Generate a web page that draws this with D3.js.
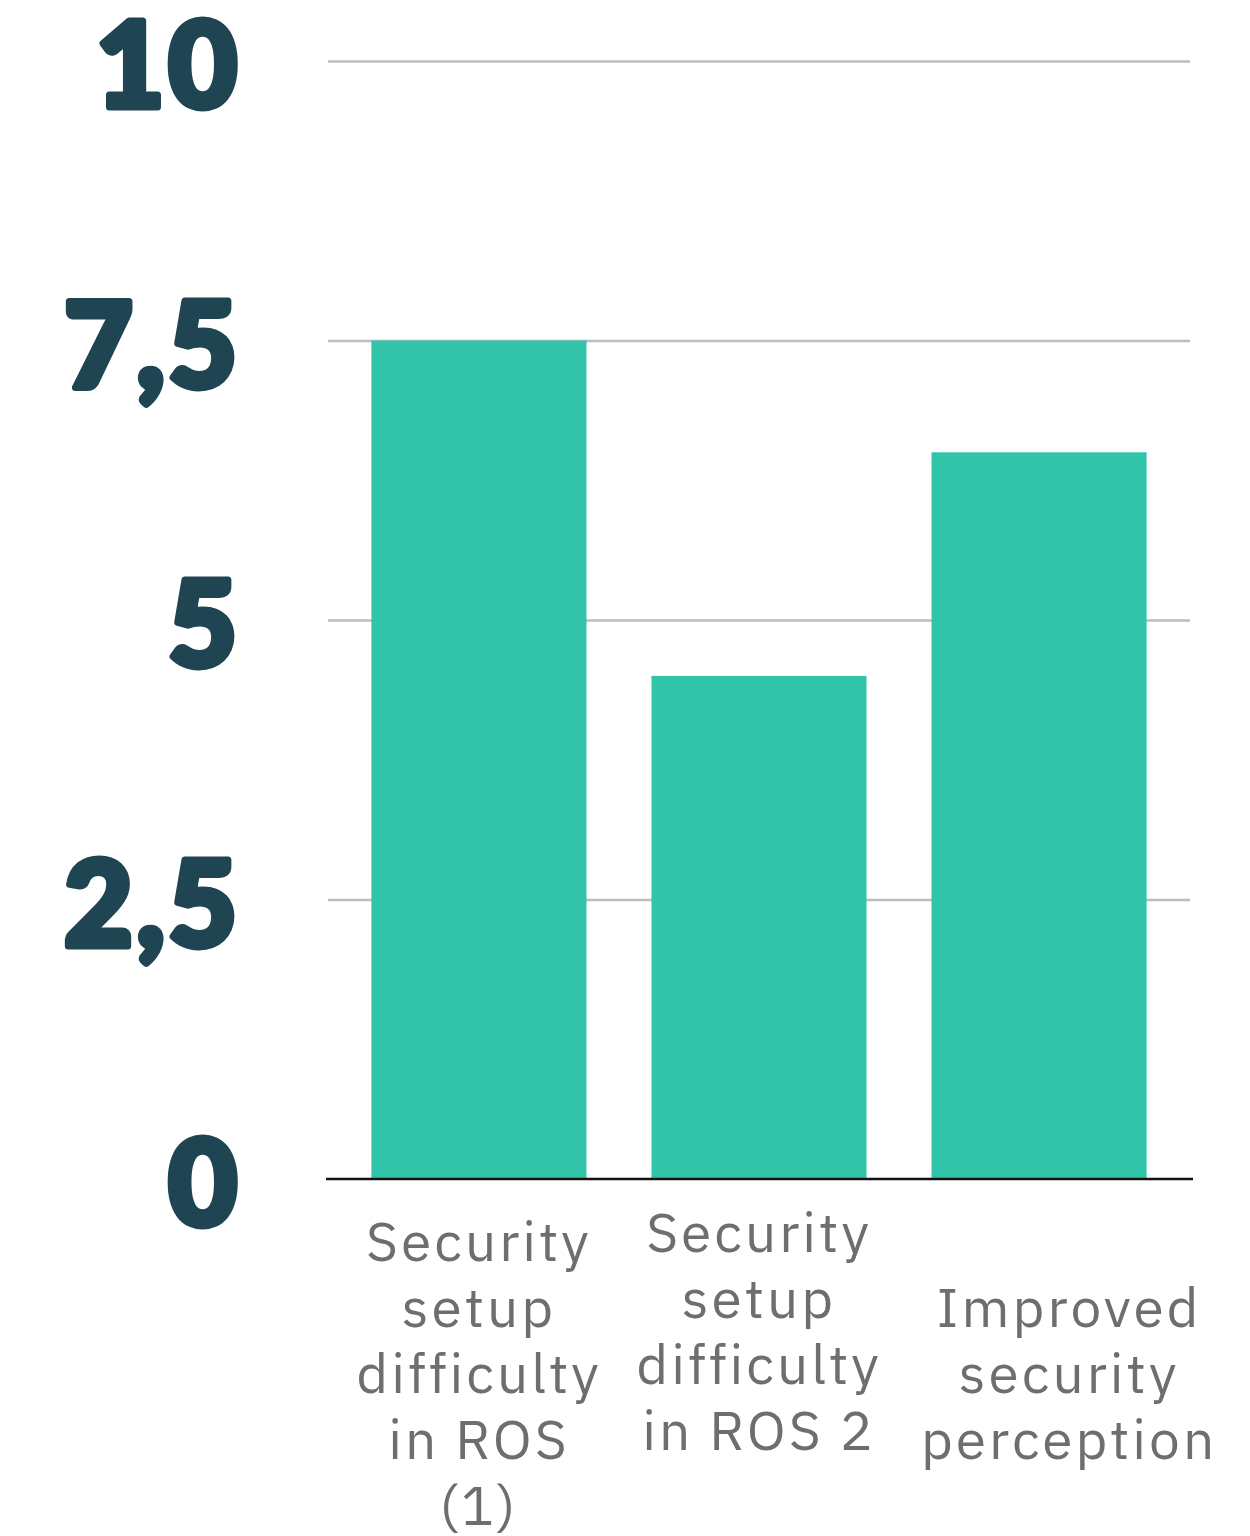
<!DOCTYPE html>
<html>
<head>
<meta charset="utf-8">
<script src="https://cdn.jsdelivr.net/npm/d3@7"></script>
<style>
  body { margin: 0; background: #fff; }
  .grid line { stroke: #bdbdbd; stroke-width: 2.5; }
  .grid path { display: none; }
</style>
</head>
<body>
<div id="chart"></div>
<script>
// categories, wrapped the way they show under the bars
var categories = ["ROS1", "ROS2", "Perception"];
var labelLines = [
    ["Security", "setup", "difficulty", "in ROS", "(1)"],
    ["Security", "setup", "difficulty", "in ROS 2"],
    ["Improved", "security", "perception"]
];
var scores = [7.5, 4.5, 6.5];
var tickValues = [0, 2.5, 5, 7.5, 10];
var tickLabels = ["0", "2,5", "5", "7,5", "10"];

var W = 1250, H = 1536;
var plotLeft = 328, plotRight = 1190, plotTop = 61, plotBottom = 1179;

var svg = d3.select("#chart").append("svg")
    .attr("width", W)
    .attr("height", H);

var x = d3.scaleBand()
    .domain(categories)
    .range([plotLeft, plotRight])
    .paddingInner(0.232)
    .paddingOuter(0.155);

var y = d3.scaleLinear().domain([0, 10]).range([plotBottom, plotTop]);

// gridlines (no zero, the baseline is drawn separately)
var grid = d3.axisLeft(y)
    .tickValues(tickValues.filter(function(d){ return d > 0; }))
    .tickSize(-(plotRight - plotLeft))
    .tickFormat("");
svg.append("g")
    .attr("class", "grid")
    .attr("transform", "translate(" + plotLeft + ",0)")
    .call(grid);

// bars
svg.append("g").selectAll("rect")
    .data(scores)
    .enter()
    .append("rect")
    .attr("x", function(d, i){ return x(categories[i]); })
    .attr("y", function(d){ return y(d); })
    .attr("width", x.bandwidth())
    .attr("height", function(d){ return y(0) - y(d) - 1; })
    .attr("fill", "#32c4a9");

// baseline
svg.append("line")
    .attr("x1", plotLeft - 2).attr("x2", plotRight + 3)
    .attr("y1", y(0)).attr("y2", y(0))
    .attr("stroke", "#111").attr("stroke-width", 2.5);

// big y tick labels, stroked to get the extra-heavy look
svg.append("g").selectAll("text")
    .data(tickValues)
    .enter()
    .append("text")
    .attr("x", 241)
    .attr("y", function(d){ return y(d); })
    .attr("dy", "0.39em")
    .attr("text-anchor", "end")
    .style("font-family", "Lato, 'Open Sans', sans-serif")
    .style("font-weight", 900)
    .style("font-size", "118px")
    .style("letter-spacing", "4px")
    .attr("fill", "#1f4452")
    .attr("stroke", "#1f4452")
    .attr("stroke-width", 7)
    .attr("stroke-linejoin", "round")
    .text(function(d, i){ return tickLabels[i]; });

// category labels under the bars
var lineH = 66;
var shiftX = {2: 30};      // third label sits a bit right of its bar
var shiftY = {1: -42};     // second label sits higher
var lab = svg.append("g").selectAll("text")
    .data(labelLines)
    .enter()
    .append("text")
    .attr("text-anchor", "middle")
    .style("font-family", "'IBM Plex Sans', 'Open Sans', sans-serif")
    .style("font-size", "55px")
    .style("letter-spacing", "3px")
    .attr("fill", "#6e6e6e")
    .attr("transform", function(d, i){
        var cx = x(categories[i]) + x.bandwidth() / 2 + (shiftX[i] || 0);
        var firstY = 1393 - (d.length - 1) / 2 * lineH + (shiftY[i] || 0);
        return "translate(" + cx + "," + firstY + ")";
    });
lab.selectAll("tspan")
    .data(function(d){ return d; })
    .enter()
    .append("tspan")
    .attr("x", 0)
    .attr("y", function(d, j){ return j * lineH; })
    .text(function(d){ return d; });
</script>
</body>
</html>
